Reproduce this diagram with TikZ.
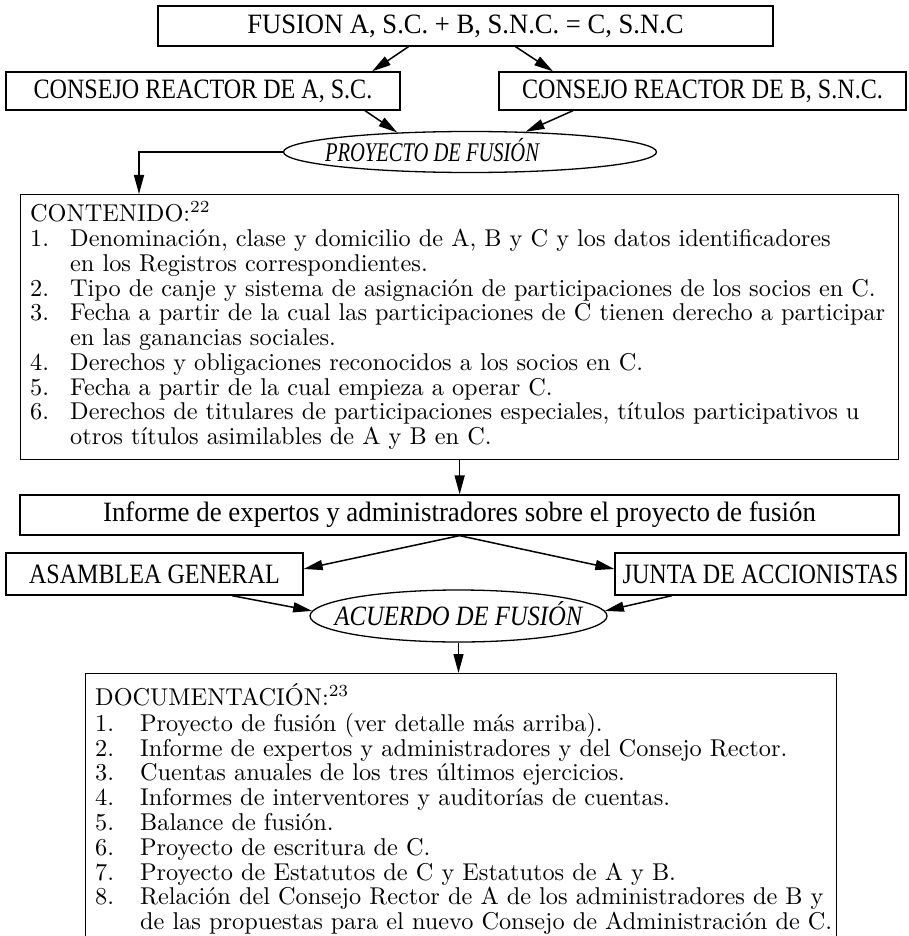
\documentclass[tikz,border=0pt]{standalone}
\usepackage{graphicx}
\usepackage{fontspec}
\newfontfamily\hfont{Liberation Serif}
\usetikzlibrary{arrows.meta,shapes.geometric}
\newcommand\sqz[1]{\scalebox{0.86}[1]{#1}}
\newcommand\bodytext[1]{\scalebox{2.43}{\fontsize{10pt}{10.2pt}\selectfont #1}}
\begin{document}
\begin{tikzpicture}[x=1pt,y=-1pt,
  box/.style={draw,line width=1.3pt,rectangle,inner sep=0pt},
  oval/.style={draw,line width=1.3pt,ellipse,inner sep=0pt},
  arr/.style={line width=1.5pt,-{Triangle[length=19pt,width=10pt]}},
  hd/.style={font=\hfont\fontsize{28pt}{30pt}\selectfont},
  it/.style={anchor=base,inner sep=0pt,font=\hfont\itshape\fontsize{27pt}{29pt}\selectfont},
  txt/.style={anchor=north west,inner sep=0pt}]
\path[use as bounding box] (0,0) rectangle (908,936);
\clip (0,0) rectangle (908,936);
\fill[white] (0,0) rectangle (908,936);

% boxes
\node[box,hd,minimum width=615pt,minimum height=40pt] (top) at (465.5,26) {\scalebox{0.95}[1]{FUSION A, S.C. + B, S.N.C. = C, S.N.C}};
\node[box,hd,minimum width=394pt,minimum height=38pt] (ca) at (203,91) {\sqz{CONSEJO REACTOR DE A, S.C.}};
\node[box,hd,minimum width=407pt,minimum height=38pt] (cb) at (702.5,91) {\sqz{CONSEJO REACTOR DE B, S.N.C.}};
\node[oval,minimum width=373pt,minimum height=41pt] (pf) at (470,152) {};
\node[it] (pft) at (432,161) {\scalebox{0.76}[1]{PROYECTO DE FUSIÓN}};

\node[box,anchor=north west,minimum width=878pt,minimum height=265pt] (cont) at (20,194) {};
\node[txt] (conttxt) at ([xshift=10pt,yshift=-7.3pt]cont.north west) {\bodytext{%
\begin{tabular}{@{}p{16.46pt}@{}l@{}}
\multicolumn{2}{@{}l@{}}{CONTENIDO:\textsuperscript{22}}\\
1. & Denominación, clase y domicilio de A, B y C y los datos identificadores\\
   & en los Registros correspondientes.\\
2. & Tipo de canje y sistema de asignación de participaciones de los socios en C.\\
3. & Fecha a partir de la cual las participaciones de C tienen derecho a participar\\
   & en las ganancias sociales.\\
4. & Derechos y obligaciones reconocidos a los socios en C.\\
5. & Fecha a partir de la cual empieza a operar C.\\
6. & Derechos de titulares de participaciones especiales, títulos participativos u\\
   & otros títulos asimilables de A y B en C.
\end{tabular}}};

\node[box,hd,minimum width=879pt,minimum height=40pt] (inf) at (459.5,515) {\scalebox{0.96}[1]{Informe de expertos y administradores sobre el proyecto de fusión}};
\node[box,hd,minimum width=297pt,minimum height=42pt] (asm) at (154.5,574) {\sqz{ASAMBLEA GENERAL}};
\node[box,hd,minimum width=291pt,minimum height=42pt] (jun) at (760.5,574) {\sqz{JUNTA DE ACCIONISTAS}};
\node[oval,minimum width=297pt,minimum height=52pt] (acu) at (458.5,616) {};
\node[it,font=\hfont\itshape\fontsize{28pt}{30pt}\selectfont] (acut) at (458.5,625) {\scalebox{0.88}[1]{ACUERDO DE FUSIÓN}};

\node[box,anchor=north west,minimum width=751pt,minimum height=300pt] (doc) at (85,673) {};
\node[txt] (doctxt) at ([xshift=10pt,yshift=-10.3pt]doc.north west) {\bodytext{%
\begin{tabular}{@{}p{18.5pt}@{}l@{}}
\multicolumn{2}{@{}l@{}}{DOCUMENTACIÓN:\textsuperscript{23}}\\
1. & Proyecto de fusión (ver detalle más arriba).\\
2. & Informe de expertos y administradores y del Consejo Rector.\\
3. & Cuentas anuales de los tres últimos ejercicios.\\
4. & Informes de interventores y auditorías de cuentas.\\
5. & Balance de fusión.\\
6. & Proyecto de escritura de C.\\
7. & Proyecto de Estatutos de C y Estatutos de A y B.\\
8. & Relación del Consejo Rector de A de los administradores de B y\\
   & de las propuestas para el nuevo Consejo de Administración de C.
\end{tabular}}};

% connectors
\draw[arr] ([xshift=-57pt]top.south) -- ([xshift=169pt]ca.north);
\draw[arr] ([xshift=50pt]top.south) -- ([xshift=-149.5pt]cb.north);
\draw[arr] ([xshift=162pt]ca.south) -- (pf.165);
\draw[arr] ([xshift=-129.5pt]cb.south) -- (pf.20);
\draw[arr] (pf.west) -| ([xshift=119pt]cont.north west);
\draw[arr] (cont.south) -- (cont.south |- inf.north);
\draw[arr] (inf.south) -- ([yshift=5pt]asm.east);
\draw[arr] (inf.south) -- ([yshift=5pt]jun.west);
\draw[arr] ([xshift=77.5pt]asm.south) -- (acu.178);
\draw[arr] ([xshift=-88.5pt]jun.south) -- (acu.2);
\draw[arr] (acu.south) -- (acu.south |- doc.north);
\end{tikzpicture}
\end{document}
